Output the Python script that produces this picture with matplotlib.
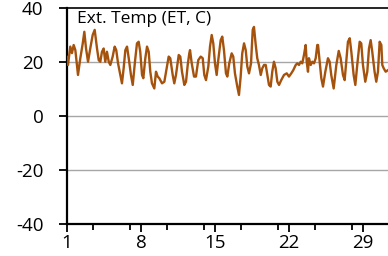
import numpy as np
import matplotlib
matplotlib.use('Agg')
import matplotlib.pyplot as plt
from matplotlib.ticker import MultipleLocator

LINE_COLOR = '#a5520d'
GRID_COLOR = '#a6a6a6'

# day of month (fractional) and external temperature (C)
days = [1.00, 1.09, 1.31, 1.47, 1.63, 1.79, 1.95, 2.04, 2.26, 2.49,
        2.64, 2.80, 2.99, 3.20, 3.43, 3.62, 3.84, 4.00, 4.15, 4.31,
        4.47, 4.62, 4.78, 4.95, 5.10, 5.32, 5.51, 5.66, 5.83, 6.04,
        6.20, 6.36, 6.52, 6.68, 6.84, 7.05, 7.22, 7.43, 7.62, 7.78,
        7.93, 8.10, 8.22, 8.41, 8.57, 8.73, 8.88, 9.04, 9.26, 9.42,
        9.58, 9.73, 9.99, 10.21, 10.43, 10.62, 10.77, 11.00, 11.15, 11.31,
        11.57, 11.72, 11.88, 12.10, 12.26, 12.42, 12.57, 12.64, 12.80, 13.02,
        13.20, 13.42, 13.65, 13.84, 13.99, 14.15, 14.37, 14.53, 14.69, 14.84,
        15.00, 15.16, 15.31, 15.54, 15.69, 15.85, 16.04, 16.17, 16.35, 16.58,
        16.73, 16.89, 17.11, 17.27, 17.43, 17.58, 17.75, 17.91, 18.06, 18.22,
        18.41, 18.57, 18.69, 18.85, 19.00, 19.16, 19.33, 19.48, 19.64, 19.80,
        19.95, 20.11, 20.27, 20.42, 20.58, 20.74, 20.90, 21.06, 21.27, 21.53,
        21.79, 22.00, 22.22, 22.41, 22.64, 22.79, 22.95, 23.11, 23.26, 23.42,
        23.58, 23.68, 23.80, 23.89, 24.06, 24.21, 24.37, 24.53, 24.68, 24.75,
        24.91, 25.06, 25.22, 25.44, 25.69, 25.85, 26.00, 26.23, 26.48, 26.71,
        26.89, 27.11, 27.27, 27.42, 27.58, 27.75, 27.90, 28.12, 28.28, 28.46,
        28.69, 28.84, 29.00, 29.22, 29.41, 29.57, 29.73, 29.88, 30.10, 30.26,
        30.42, 30.58, 30.74, 30.83, 30.96, 31.15, 31.37]
temps = [21.9, 18.9, 25.7, 23.3, 26.3, 24.4, 18.3, 15.2, 21.4, 26.9,
         31.2, 25.0, 20.1, 25.0, 30.0, 31.9, 25.0, 20.7, 20.1, 23.8,
         25.0, 20.1, 23.8, 20.1, 18.9, 22.0, 25.7, 24.4, 19.5, 15.2,
         12.1, 17.7, 24.4, 25.7, 21.4, 15.2, 11.5, 20.1, 26.9, 27.5,
         23.8, 15.2, 14.0, 21.4, 25.7, 23.8, 16.4, 12.1, 10.2, 16.4,
         14.6, 14.0, 12.1, 12.7, 17.7, 22.0, 21.4, 15.2, 12.1, 15.2,
         22.6, 22.0, 16.4, 11.5, 12.7, 18.9, 23.2, 24.4, 19.5, 14.6,
         14.6, 20.7, 22.0, 21.4, 15.2, 13.3, 18.3, 25.7, 30.0, 26.9,
         19.5, 15.2, 20.7, 28.1, 29.4, 24.4, 15.8, 14.6, 19.5, 23.2,
         22.0, 15.8, 10.9, 7.8, 14.6, 23.2, 26.9, 24.4, 18.3, 15.8,
         19.5, 31.9, 33.0, 26.5, 21.4, 18.9, 15.2, 17.7, 18.9, 18.9,
         15.2, 11.5, 10.9, 16.4, 20.1, 17.7, 12.7, 11.5, 13.3, 15.2,
         15.8, 14.6, 15.8, 17.0, 18.9, 19.5, 18.9, 20.1, 19.5, 22.6,
         26.3, 20.1, 16.4, 21.4, 18.9, 20.1, 19.5, 21.4, 26.3, 26.3,
         20.1, 14.0, 10.9, 16.4, 21.4, 20.1, 15.2, 10.2, 18.9, 24.1,
         21.4, 15.2, 13.3, 20.1, 27.5, 28.8, 23.8, 15.2, 11.5, 18.9,
         27.5, 26.9, 18.9, 12.7, 16.4, 25.0, 28.1, 23.8, 16.4, 12.7,
         16.4, 27.5, 26.3, 18.9, 17.7, 16.4, 17.0]

y_ticks = [-40, -20, 0, 20, 40]
x_labels = [1, 8, 15, 22, 29]
title = 'Ext. Temp (ET, C)'

plt.rcParams['font.family'] = ['Open Sans', 'DejaVu Sans']
plt.rcParams['axes.unicode_minus'] = False

fig = plt.figure(figsize=(3.88, 2.56), dpi=100)
ax = fig.add_axes([67 / 388, 32 / 256, 1 - 67 / 388, 216 / 256])

for y in y_ticks[1:-1]:
    ax.axhline(y, color=GRID_COLOR, lw=1.0, zorder=1)

ax.plot(days, temps, color=LINE_COLOR, lw=1.7, zorder=3,
        solid_joinstyle='round')

ax.set_xlim(1, 31.37)
ax.set_ylim(-40, 40)
ax.set_yticks(y_ticks)
ax.set_xticks(x_labels)
ax.xaxis.set_minor_locator(MultipleLocator(3.5))

for side in ['left', 'bottom', 'top']:
    ax.spines[side].set_color('black')
    ax.spines[side].set_linewidth(1.6)
ax.spines['top'].set_linewidth(1.2)
ax.spines['right'].set_visible(False)

ax.tick_params(axis='both', which='major', length=6, width=1.3,
               labelsize=13.5, direction='out', colors='black')
ax.tick_params(axis='y', which='major', pad=11)
ax.tick_params(axis='x', which='major', pad=1)
ax.tick_params(axis='x', which='minor', length=4, width=1.3)

ax.text(0.032, 0.985, title, transform=ax.transAxes, fontsize=12.5,
        ha='left', va='top')

fig.savefig('out.png', dpi=100)
